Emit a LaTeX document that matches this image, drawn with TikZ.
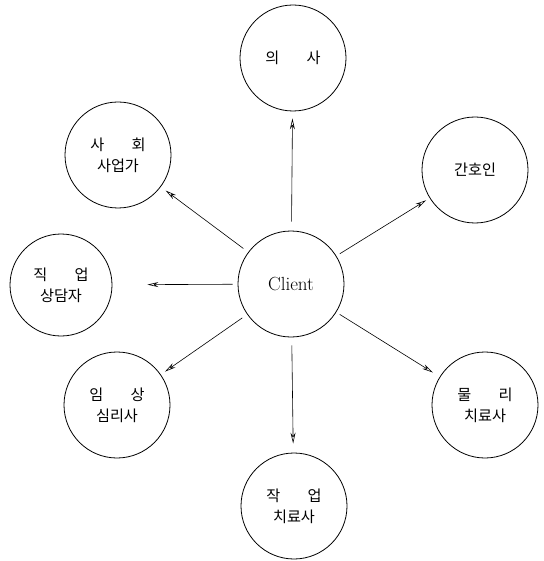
\documentclass[tikz,border=0pt]{standalone}
\usepackage{fontspec}
\newfontfamily\kr{Noto Sans CJK KR}[Scale=0.95]
\usetikzlibrary{arrows.meta}
\begin{document}
\begin{tikzpicture}[x=1pt,y=-1pt,
  role/.style={circle,draw,line width=0.8pt,minimum size=106pt,inner sep=0pt,align=center,font=\kr\fontsize{16}{21}\selectfont},
  link/.style={line width=0.6pt,-{Stealth[length=11pt,width=5pt,open]}}]
\useasboundingbox (0,0) rectangle (543,561);
\node[role,font=\rmfamily\fontsize{19}{22}\selectfont] (c) at (291,284) {Client};
\node[role] (doc) at (293,58) {의\hspace{1.8em}사};
\node[role] (nur) at (475,170) {간호인};
\node[role] (phy) at (485,405) {물\hspace{1.8em}리\\치료사};
\node[role] (occ) at (294,506) {작\hspace{1.8em}업\\치료사};
\node[role] (psy) at (117,405) {임\hspace{1.8em}상\\심리사};
\node[role,minimum size=102pt] (voc) at (61,285) {직\hspace{1.8em}업\\상담자};
\node[role] (soc) at (118,155) {사\hspace{1.8em}회\\사업가};
\draw[link,shorten <=9pt,shorten >=7pt] (c) -- (doc);
\draw[link,shorten <=4pt,shorten >=4pt] (c) -- (nur);
\draw[link,shorten <=4pt,shorten >=8pt] (c) -- (phy);
\draw[link,shorten <=8pt,shorten >=9pt] (c) -- (occ);
\draw[link,shorten <=6pt,shorten >=5pt] (c) -- (psy);
\draw[link,shorten <=5pt,shorten >=35pt] (c) -- (voc);
\draw[link,shorten <=6pt,shorten >=6pt] (c) -- (soc);
\end{tikzpicture}
\end{document}
